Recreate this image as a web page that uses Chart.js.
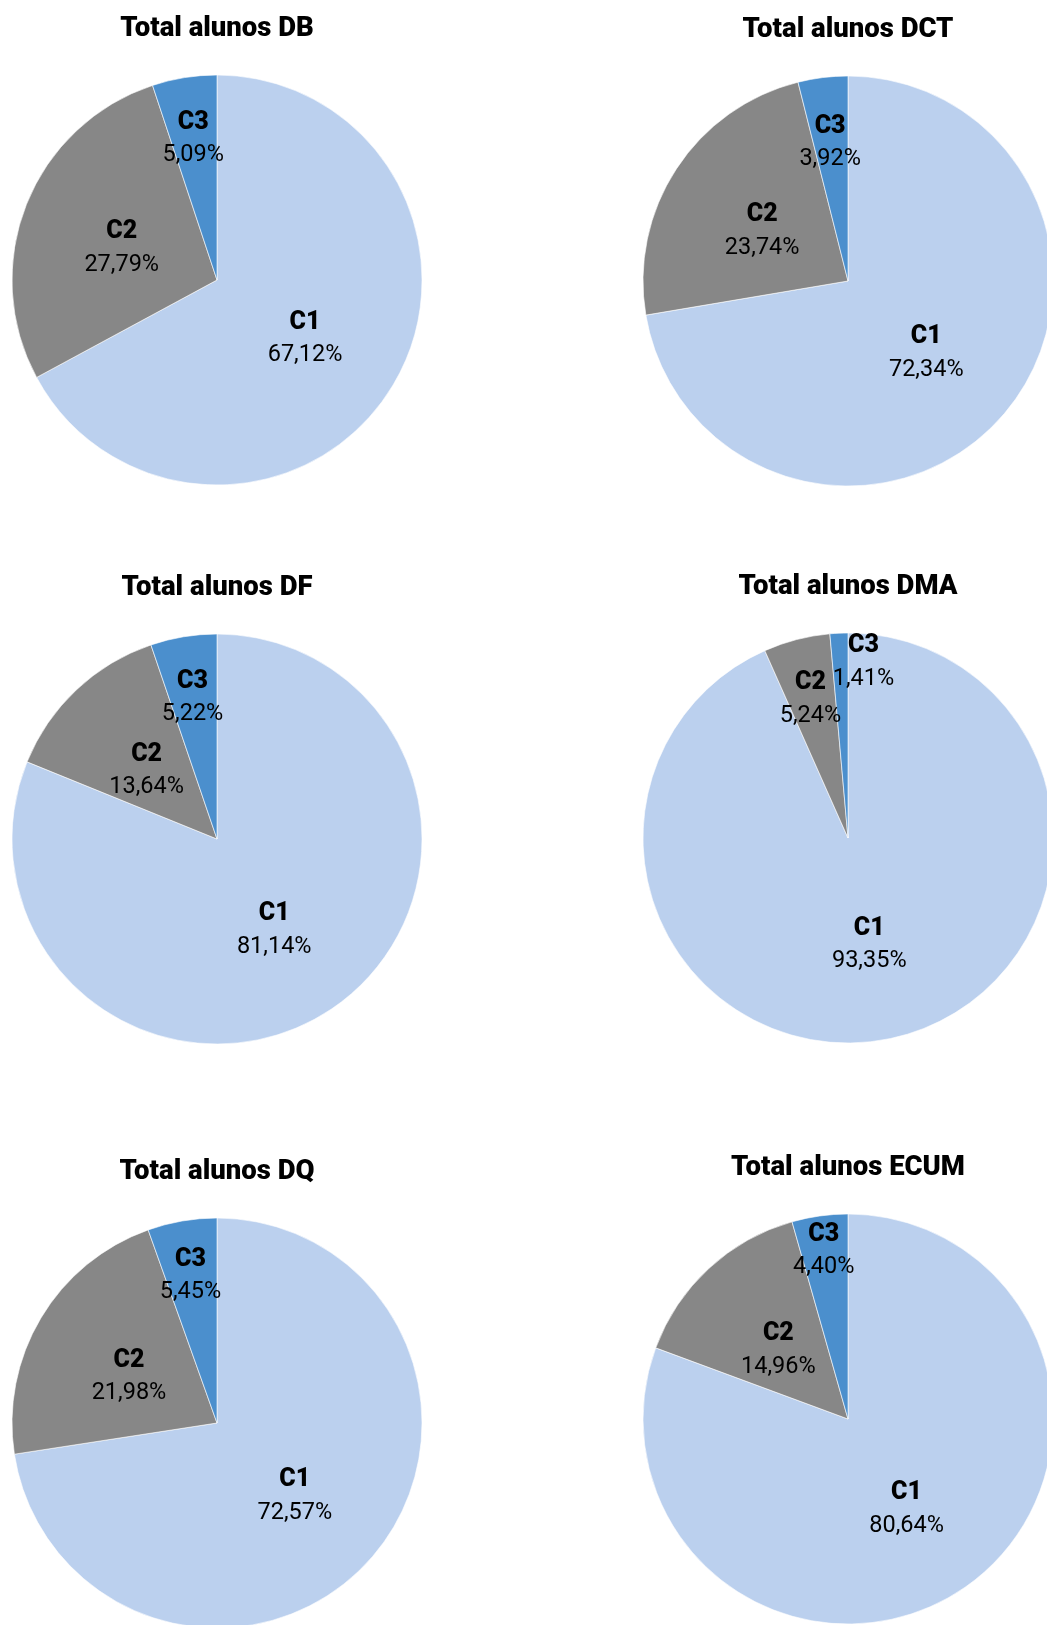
<!DOCTYPE html>
<html>
<head>
<meta charset="utf-8">
<script src="https://cdn.jsdelivr.net/npm/chart.js@4.4.1/dist/chart.umd.min.js"></script>
<style>
  html, body { margin: 0; padding: 0; background: #fff; overflow: hidden; width: 1047px; height: 1625px; }
  .pie { position: absolute; width: 434px; height: 485px; }
</style>
</head>
<body>
<div class="pie" style="left:0;top:0"><canvas id="db" width="434" height="485"></canvas></div>
<div class="pie" style="left:631px;top:1px"><canvas id="dct" width="434" height="485"></canvas></div>
<div class="pie" style="left:0;top:559px"><canvas id="df" width="434" height="485"></canvas></div>
<div class="pie" style="left:631px;top:558px"><canvas id="dma" width="434" height="485"></canvas></div>
<div class="pie" style="left:0;top:1143px"><canvas id="dq" width="434" height="485"></canvas></div>
<div class="pie" style="left:631px;top:1139px"><canvas id="ecum" width="434" height="485"></canvas></div>
<script>
const categories = ['C1', 'C2', 'C3']
const dbValues = [67.12, 27.79, 5.09]
const dctValues = [72.34, 23.74, 3.92]
const dfValues = [81.14, 13.64, 5.22]
const dmaValues = [93.35, 5.24, 1.41]
const dqValues = [72.57, 21.98, 5.45]
const ecumValues = [80.64, 14.96, 4.40]

const sliceColors = ['#BBD0EE', '#878787', '#4B8FCD']

Chart.defaults.font.family = 'Roboto'

// labels inside the slices, Excel-like "C1 / 67,12%"
const sliceLabels = {
  id: 'sliceLabels',
  afterDatasetsDraw(chart, args, opts) {
    const ctx = chart.ctx
    const meta = chart.getDatasetMeta(0)
    const values = chart.data.datasets[0].data
    const total = values.reduce((a, b) => a + b, 0)
    ctx.save()
    ctx.fillStyle = '#000'
    ctx.textAlign = 'center'
    ctx.textBaseline = 'middle'
    meta.data.forEach((arc, i) => {
      const share = values[i] / total
      const mid = (arc.startAngle + arc.endAngle) / 2
      let f = share < 0.1 ? opts.smallRadius : 0.5
      if (share < 0.02) f = 0.89
      const name = chart.data.labels[i]
      ctx.font = '900 25px Roboto'
      let x = arc.x + Math.cos(mid) * arc.outerRadius * f
      const y = arc.y + Math.sin(mid) * arc.outerRadius * f + 6
      if (share < 0.02) x = arc.x + ctx.measureText(name).width / 2
      ctx.fillText(name, x, y - 16)
      ctx.font = '23.5px Roboto'
      ctx.fillText(values[i].toFixed(2).replace('.', ',') + '%', x, y + 17)
    })
    ctx.restore()
  }
}

const makePie = (id, title, values, smallRadius) => {
  const ctx = document.getElementById(id).getContext('2d')
  return new Chart(ctx, {
    type: 'pie',
    data: {
      labels: categories,
      datasets: [{
        data: values,
        backgroundColor: sliceColors,
        borderColor: 'rgba(255,255,255,0.6)',
        borderWidth: 1
      }]
    },
    options: {
      responsive: false,
      animation: false,
      radius: 205,
      layout: { padding: 0 },
      plugins: {
        legend: { display: false },
        tooltip: { enabled: false },
        title: {
          display: true,
          text: title,
          color: '#000',
          font: { size: 27.5, weight: '900' },
          padding: { top: 13, bottom: 29 }
        },
        sliceLabels: { smallRadius: smallRadius }
      }
    },
    plugins: [sliceLabels]
  })
}

makePie('db', 'Total alunos DB', dbValues, 0.73)
makePie('dct', 'Total alunos DCT', dctValues, 0.71)
makePie('df', 'Total alunos DF', dfValues, 0.73)
makePie('dma', 'Total alunos DMA', dmaValues, 0.73)
makePie('dq', 'Total alunos DQ', dqValues, 0.76)
makePie('ecum', 'Total alunos ECUM', ecumValues, 0.86)
</script>
</body>
</html>
